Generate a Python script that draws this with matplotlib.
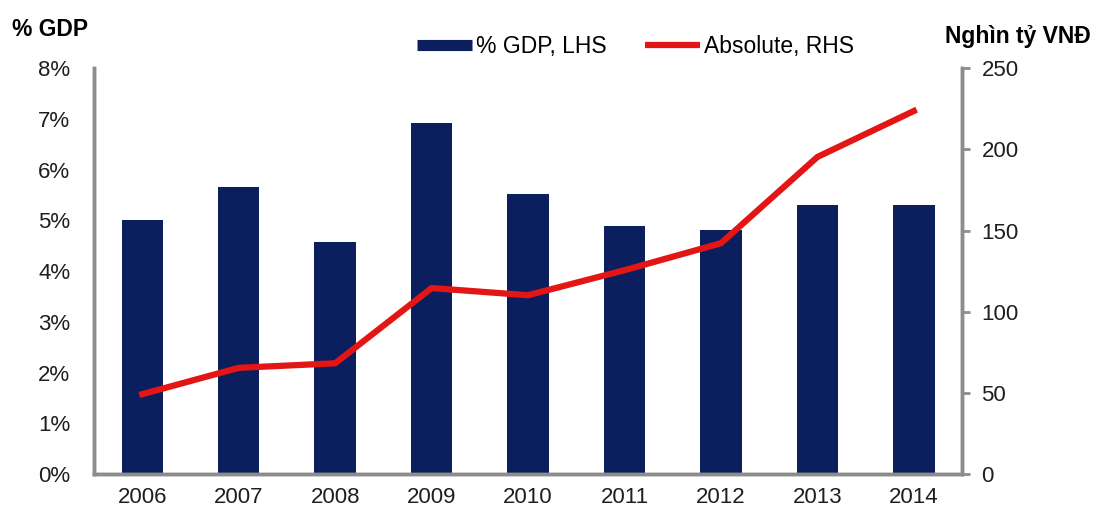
import matplotlib.pyplot as plt
from matplotlib.lines import Line2D
from matplotlib.ticker import FuncFormatter

plt.rcParams['font.family'] = ['Liberation Sans', 'DejaVu Sans']

# Data: share of GDP (left axis) and absolute value, thousand bn VND (right axis)
years = ['2006', '2007', '2008', '2009', '2010', '2011', '2012', '2013', '2014']
pct_gdp = [5.0, 5.66, 4.58, 6.92, 5.53, 4.89, 4.81, 5.31, 5.31]
absolute = [49.3, 65.5, 68.3, 114.6, 110.2, 125.6, 142.2, 195.3, 223.6]

NAVY = '#0B1F5E'
RED = '#E41515'
SPINE = '#8C8C8C'

fig = plt.figure(figsize=(10.96, 5.2), dpi=100)
ax = fig.add_axes([0.0858, 0.088, 0.792, 0.781])
ax2 = ax.twinx()

x = range(len(years))
ax.bar(x, pct_gdp, width=0.43, color=NAVY, zorder=2)
ax2.plot(x, absolute, color=RED, lw=4.5, zorder=3)

ax.set_xlim(-0.5, 8.5)
ax.set_ylim(0, 8)
ax.set_yticks(range(0, 9))
ax.yaxis.set_major_formatter(FuncFormatter(lambda v, p: f'{int(v)}%'))
ax2.set_ylim(0, 250)
ax2.set_yticks(range(0, 251, 50))

ax.set_xticks(list(x))
ax.set_xticklabels(years)

for a in (ax, ax2):
    a.spines['top'].set_visible(False)
    for s in ('left', 'right', 'bottom'):
        a.spines[s].set_color(SPINE)
        a.spines[s].set_linewidth(2.5)
    a.tick_params(labelsize=16, colors='#1e1e1e')

ax.tick_params(axis='x', length=0, pad=9)
ax.tick_params(axis='y', length=0, pad=17)
ax2.tick_params(axis='y', length=6, width=2, color=SPINE, pad=8)

# axis titles
fig.text(0.011, 0.944, '% GDP', fontsize=16.5, fontweight='bold', ha='left', va='center')
fig.text(0.995, 0.93, 'Nghìn tỷ VNĐ', fontsize=16.5, fontweight='bold', ha='right', va='center')

handles = [Line2D([], [], color=NAVY, lw=8, solid_capstyle='butt'),
           Line2D([], [], color=RED, lw=4.5, solid_capstyle='butt')]
fig.legend(handles, ['% GDP, LHS', 'Absolute, RHS'], loc='center', ncol=2,
           bbox_to_anchor=(0.58, 0.91), frameon=False, fontsize=16.5,
           handlelength=2.4, handletextpad=0.15, columnspacing=1.7)

fig.savefig('out.png', dpi=100)
